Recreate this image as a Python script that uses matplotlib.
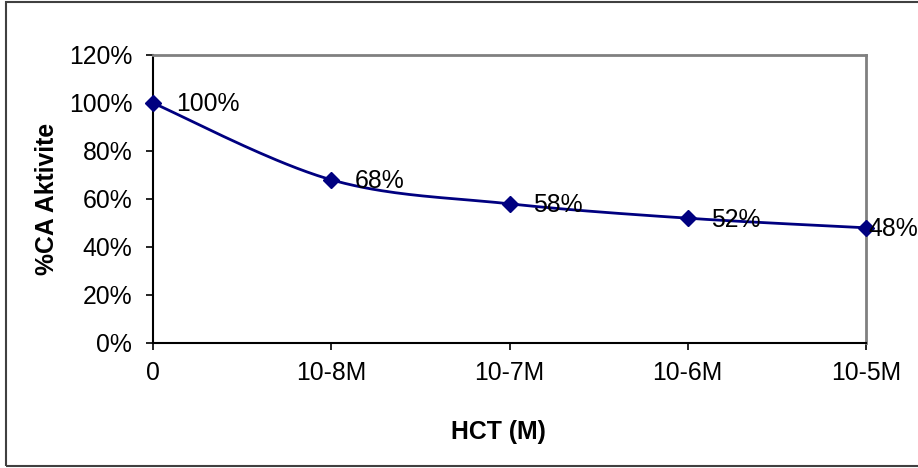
import numpy as np
import matplotlib
matplotlib.use("Agg")
import matplotlib.pyplot as plt
from matplotlib.patches import Rectangle

plt.rcParams['font.family'] = ['Liberation Sans', 'DejaVu Sans']

# Data
categories = ["0", "10-8M", "10-7M", "10-6M", "10-5M"]
activity = [1.00, 0.68, 0.58, 0.52, 0.48]
value_labels = ["100%", "68%", "58%", "52%", "48%"]
y_ticks = [0.0, 0.2, 0.4, 0.6, 0.8, 1.0, 1.2]
y_tick_labels = ["0%", "20%", "40%", "60%", "80%", "100%", "120%"]

W, H = 918, 468
FS = 17.8
fig = plt.figure(figsize=(W / 100, H / 100), dpi=100)
fig.patch.set_facecolor('white')

# Plot area in pixel units
left, right, top, bottom = 153, 866, 55, 343
ax = fig.add_axes([left / W, (H - bottom) / H, (right - left) / W, (bottom - top) / H])

x = np.arange(len(categories))
y = np.array(activity)


def smooth_curve(xs, ys, n=40):
    """Cubic Bezier smoothing through every point (Catmull-Rom style)."""
    px = np.concatenate([[xs[0]], xs, [xs[-1]]])
    py = np.concatenate([[ys[0]], ys, [ys[-1]]])
    out_x, out_y = [], []
    t = np.linspace(0, 1, n)
    for i in range(1, len(px) - 2):
        p0 = np.array([px[i], py[i]])
        p3 = np.array([px[i + 1], py[i + 1]])
        c1 = p0 + (np.array([px[i + 1], py[i + 1]]) - np.array([px[i - 1], py[i - 1]])) / 6
        c2 = p3 - (np.array([px[i + 2], py[i + 2]]) - np.array([px[i], py[i]])) / 6
        b = ((1 - t) ** 3)[:, None] * p0 + (3 * (1 - t) ** 2 * t)[:, None] * c1 \
            + (3 * (1 - t) * t ** 2)[:, None] * c2 + (t ** 3)[:, None] * p3
        out_x.extend(b[:, 0])
        out_y.extend(b[:, 1])
    return np.array(out_x), np.array(out_y)


sx, sy = smooth_curve(x.astype(float), y)
navy = '#000080'
ax.plot(sx, sy, color=navy, lw=2, zorder=3, clip_on=False)
ax.plot(x, y, linestyle='none', marker='D', markersize=8, color=navy, zorder=4, clip_on=False)

# Value labels to the right of each point; the last one is pulled in to stay inside the frame
offsets = [17, 17, 17, 17, 1.5]
for xi, yi, lab, dx in zip(x, y, value_labels, offsets):
    ax.annotate(lab, (xi, yi), xytext=(dx, -1), textcoords='offset points',
                ha='left', va='center', fontsize=FS, color='black', zorder=5,
                annotation_clip=False)

ax.set_xlim(0, len(categories) - 1)
ax.set_ylim(0, 1.2)
ax.set_xticks(x)
ax.set_xticklabels(categories, fontsize=FS)
ax.set_yticks(y_ticks)
ax.set_yticklabels(y_tick_labels, fontsize=FS)
ax.tick_params(axis='both', direction='out', length=5, width=1.2, color='black')
ax.tick_params(axis='y', pad=10)
ax.tick_params(axis='x', pad=8)

for side in ['left', 'bottom']:
    ax.spines[side].set_color('black')
    ax.spines[side].set_linewidth(1.5)
for side in ['top', 'right']:
    ax.spines[side].set_color('#808080')
    ax.spines[side].set_linewidth(2)

fig.text(47 / W, 1 - 199 / H, "%CA Aktivite", rotation=90, ha='center', va='center',
         fontsize=FS, fontweight='bold')
fig.text(498 / W, 1 - 432 / H, "HCT (M)", ha='center', va='center',
         fontsize=FS, fontweight='bold')

# Outer chart frame
fig.patches.append(Rectangle((5.5 / W, 2 / H), 1.0, 464 / H, transform=fig.transFigure,
                             fill=False, edgecolor='#404040', lw=1.5))

fig.savefig('out.png', dpi=100)
